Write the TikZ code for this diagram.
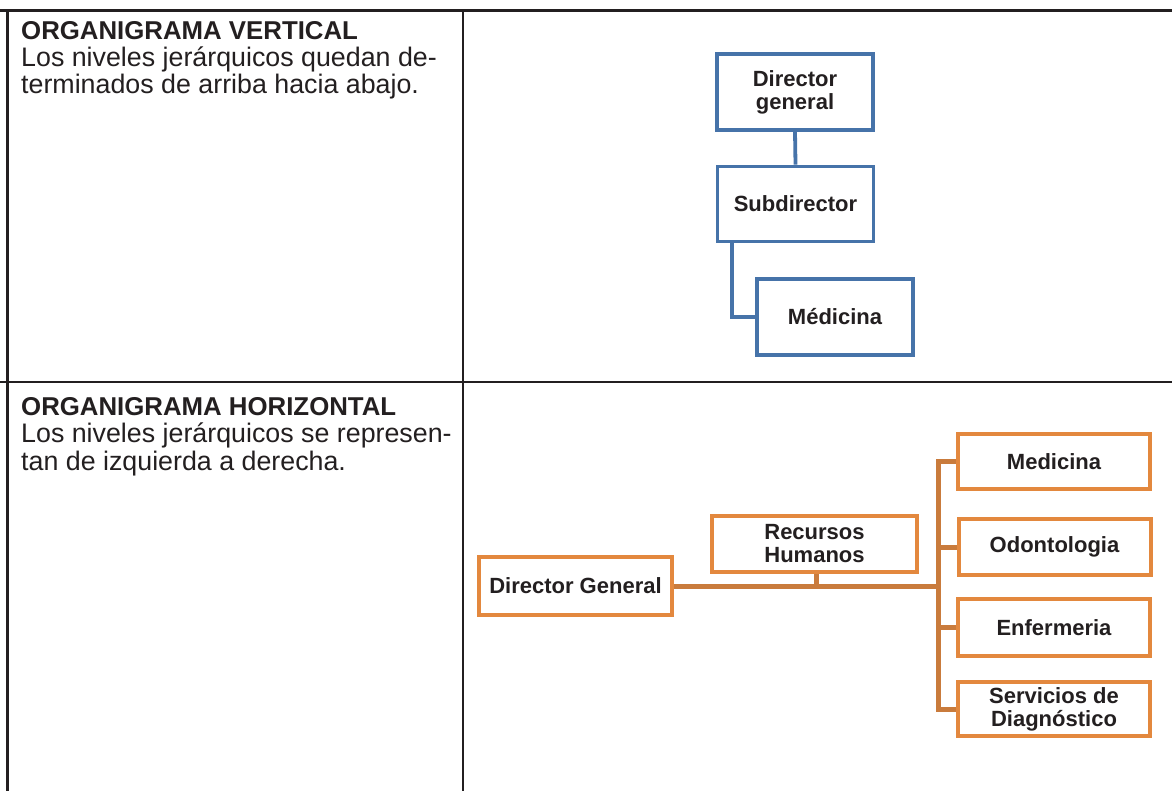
\documentclass[tikz,border=0pt]{standalone}
\usepackage{fontspec}
\setmainfont{Liberation Sans}
\definecolor{ink}{HTML}{231F20}
\definecolor{rulecol}{HTML}{231F20}
\definecolor{boxblue}{HTML}{4673A9}
\definecolor{boxorange}{HTML}{E3883E}
\definecolor{linkorange}{HTML}{C97B3C}
\begin{document}
\begin{tikzpicture}[x=1pt,y=-1pt,
  rule/.style={draw=rulecol,line width=2.5pt},
  heading/.style={anchor=base west,inner sep=0pt,text=ink,font=\bfseries\fontsize{25.8}{27}\selectfont},
  bodyline/.style={anchor=base west,inner sep=0pt,text=ink,font=\fontsize{26.8}{27}\selectfont},
  chartbox/.style={fill=white,inner sep=0pt,align=center,text=ink,
    font=\bfseries\fontsize{22}{23}\selectfont},
  bluebox/.style={chartbox,draw=boxblue,line width=3.8pt,minimum width=156pt,minimum height=76pt},
  bluelink/.style={draw=boxblue,line width=3.8pt},
  orangebox/.style={chartbox,draw=boxorange,line width=4pt,minimum width=192pt,minimum height=56pt},
  orangelink/.style={draw=linkorange,line width=5pt}]

\useasboundingbox (0,0) rectangle (1172,791);

% table rules
\coordinate (tl) at (0,10.5);
\coordinate (tr) at (1172,10.5);
\coordinate (ml) at (0,382);
\coordinate (mr) at (1172,382);
\coordinate (lt) at (7.5,10.5);
\coordinate (lb) at (7.5,791);
\coordinate (ct) at (463,10.5);
\coordinate (cb) at (463,791);
\draw[rule] (tl) -- (tr);
\draw[rule] (ml) -- (mr);
\draw[rule] (lt) -- (lb);
\draw[rule] (ct) -- (cb);

% descriptions
\node[heading]  (vtitle) at (21,40) {ORGANIGRAMA VERTICAL};
\node[bodyline] (vline1) at (21,67) {Los niveles jerárquicos quedan de-};
\node[bodyline] (vline2) at (21,94) {terminados de arriba hacia abajo.};
\node[heading]  (htitle) at (21,415) {ORGANIGRAMA HORIZONTAL};
\node[bodyline] (hline1) at (21,442) {Los niveles jerárquicos se represen-};
\node[bodyline] (hline2) at (21,470) {tan de izquierda a derecha.};

% vertical chart
\node[bluebox] (dg)  at (795,92)    {Director\\general};
\node[bluebox,minimum height=75pt] (sub) at (795.5,204) {Subdirector};
\node[bluebox] (med) at (835,317)   {Médicina};
\coordinate (elbow) at (732,317);
\draw[bluelink] (dg.south) -- (sub.north);
\draw[bluelink] (sub.south -| elbow) -- (elbow) -- (med.west);

% horizontal chart
\node[orangebox,minimum width=193pt,minimum height=58pt] (dgen) at (575.5,586) {Director General};
\node[orangebox,minimum width=205pt] (rh) at (814.5,544) {Recursos\\Humanos};
\node[orangebox,minimum height=55pt] (medi) at (1054,461.5) {Medicina};
\node[orangebox] (odon) at (1054.5,547) {Odontologia};
\node[orangebox,minimum height=57pt] (enf) at (1054,627.5) {Enfermeria};
\node[orangebox,minimum height=54pt] (serv) at (1054,709) {Servicios de\\Diagnóstico};
\coordinate (hub) at (938,586);
\draw[orangelink] (dgen.east) -- (hub);
\draw[orangelink] (rh.south -| 816,0) -- (816,586);
\draw[orangelink] (medi.west) -- (hub |- medi.west) -- (hub |- serv.west) -- (serv.west);
\draw[orangelink] (hub |- odon.west) -- (odon.west);
\draw[orangelink] (hub |- enf.west) -- (enf.west);
\end{tikzpicture}
\end{document}
